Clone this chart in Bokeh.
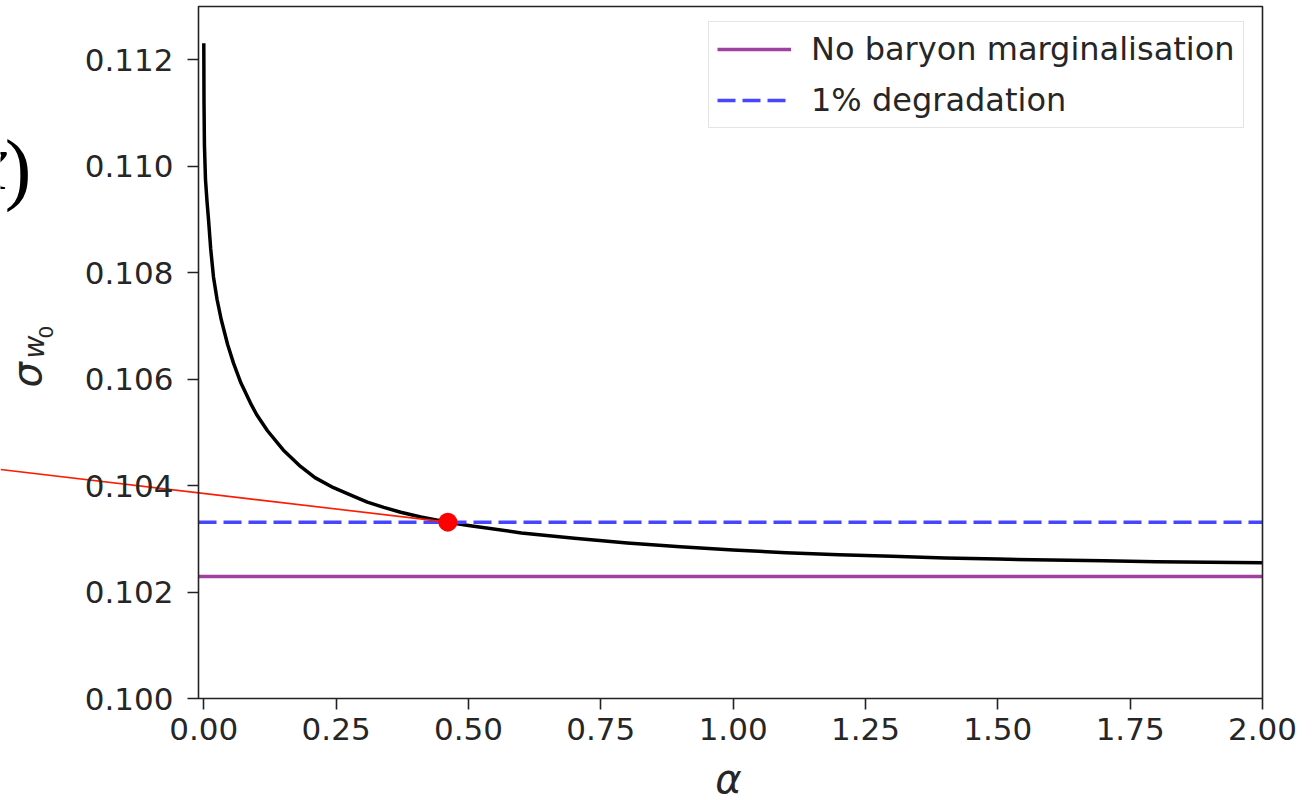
from bokeh.plotting import figure
from bokeh.models import (Label, Legend, LegendItem, Range1d, FixedTicker,
                          BoxAnnotation)
from bokeh.embed import file_html
from bokeh.resources import INLINE

# Marginalised forecast error on w0 as a function of the baryon prior width alpha
alpha = [0.0, 0.0004, 0.0012, 0.0032, 0.006, 0.0089, 0.013, 0.0183, 0.025,
         0.0329, 0.045, 0.0561, 0.07, 0.0882, 0.10, 0.1203, 0.15, 0.1827,
         0.21, 0.245, 0.28, 0.309, 0.34, 0.372, 0.41, 0.461, 0.5, 0.6, 0.7,
         0.8, 0.9, 1.0, 1.1, 1.2, 1.3, 1.4, 1.5, 1.6, 1.7, 1.8, 1.9, 2.0]
sigma_w0 = [0.11231, 0.11120, 0.11040, 0.10975, 0.10935, 0.10900, 0.10845,
            0.10792, 0.10750, 0.10712, 0.10665, 0.10630, 0.10593, 0.10555,
            0.10533, 0.10503, 0.10467, 0.10436, 0.10415, 0.10396, 0.10381,
            0.10369, 0.10359, 0.10350, 0.10341, 0.10331, 0.10325, 0.10311,
            0.10301, 0.10292, 0.10285, 0.10279, 0.10274, 0.10270, 0.10267,
            0.10264, 0.10262, 0.10260, 0.10259, 0.10257, 0.10256, 0.10255]

# Reference error without baryon marginalisation and the 1% degraded level
sigma_fid = 0.10229
degradation = 0.01
sigma_deg = sigma_fid * (1 + degradation)

# alpha at which the marginalised error reaches the 1% degradation level
alpha_star = 0.461

legend_labels = ["No baryon marginalisation", "1% degradation"]
x_ticks = [0.0, 0.25, 0.5, 0.75, 1.0, 1.25, 1.5, 1.75, 2.0]
x_tick_labels = ["0.00", "0.25", "0.50", "0.75", "1.00", "1.25", "1.50", "1.75", "2.00"]
y_ticks = [0.100, 0.102, 0.104, 0.106, 0.108, 0.110, 0.112]
y_tick_labels = ["0.100", "0.102", "0.104", "0.106", "0.108", "0.110", "0.112"]

# axes limits
X0, X1 = -0.01, 2.0
Y0, Y1 = 0.100, 0.113

W, H = 1315, 800
AL, AR, AT, AB = 198, 1262, 6, 698  # axes box edges in canvas pixels


def sx(px):
    return X0 + (px - AL) * (X1 - X0) / (AR - AL)


def sy(py):
    return Y0 + (AB - py) * (Y1 - Y0) / (AB - AT)


# the plotting frame covers the whole canvas; the axes box sits inside it
p = figure(width=W, height=H, output_backend="svg", toolbar_location=None,
           title=None, x_range=Range1d(sx(0), sx(W)), y_range=Range1d(sy(H), sy(0)),
           min_border=0, min_border_left=0, min_border_right=0,
           min_border_top=0, min_border_bottom=0)
p.background_fill_color = "white"
p.border_fill_color = "white"
p.grid.visible = False
p.outline_line_color = None

TEXT = "#262626"
SPINE = "#222222"
for ax in (p.xaxis[0], p.yaxis[0]):
    ax.axis_line_color = None
    ax.major_tick_line_color = SPINE
    ax.major_tick_line_width = 1.6
    ax.major_tick_out = 11
    ax.major_tick_in = 0
    ax.minor_tick_out = 0
    ax.minor_tick_in = 0
    ax.major_label_text_font = "DejaVu Sans"
    ax.major_label_text_font_size = "31px"
    ax.major_label_text_color = TEXT

p.xaxis[0].fixed_location = Y0
p.xaxis[0].ticker = FixedTicker(ticks=x_ticks)
p.xaxis[0].major_label_overrides = dict(zip(x_ticks, x_tick_labels))
p.xaxis[0].major_label_standoff = 8
p.yaxis[0].fixed_location = X0
p.yaxis[0].ticker = FixedTicker(ticks=y_ticks)
p.yaxis[0].major_label_overrides = dict(zip(y_ticks, y_tick_labels))
p.yaxis[0].major_label_standoff = 14

# marginalised error curve
p.line(alpha, sigma_w0, line_color="black", line_width=3.5, line_join="round")

# horizontal reference levels across the whole axis
fid = p.line([X0, X1], [sigma_fid, sigma_fid], line_color="#a040a0", line_width=3.5)
deg = p.line([X0, X1], [sigma_deg, sigma_deg], line_color="#4646ff",
             line_width=3.5, line_dash="18 7")

# pointer from the left margin to the crossing point
p.line([sx(0), alpha_star], [sy(469), sigma_deg], line_color="#ff1a00", line_width=1.6)

p.scatter([alpha_star], [sigma_deg], size=19, fill_color="red", line_color=None)

# axes box
p.add_layout(BoxAnnotation(left=X0, right=X1, bottom=Y0, top=Y1,
                           fill_color=None, fill_alpha=0,
                           line_color=SPINE, line_alpha=1.0, line_width=1.6))

legend = Legend(items=[LegendItem(label=legend_labels[0], renderers=[fid]),
                       LegendItem(label=legend_labels[1], renderers=[deg])],
                location=(708, H - 128), padding=8, spacing=13,
                glyph_width=74, glyph_height=30, label_height=30,
                label_standoff=20, label_text_font="DejaVu Sans",
                label_text_font_size="32px", label_text_color=TEXT,
                border_line_color="#cccccc", border_line_width=1.5,
                background_fill_color="white", background_fill_alpha=0.85)
p.add_layout(legend)


def mid(size, ratio=0.346):
    # distance from the alphabetic baseline to the middle of the em box
    return ratio * size


# axis labels (anchored on the middle line of each text)
p.add_layout(Label(x=sx(728), y=sy(792 - mid(40)), text="α", text_align="center",
                   text_baseline="middle", text_font="DejaVu Sans",
                   text_font_style="italic", text_font_size="40px",
                   text_color=TEXT))
p.add_layout(Label(x=sx(40 - mid(40)), y=sy(387), text="σ", angle=90,
                   angle_units="deg", text_align="left", text_baseline="middle",
                   text_font="DejaVu Sans", text_font_style="italic",
                   text_font_size="40px", text_color=TEXT))
p.add_layout(Label(x=sx(44 - mid(28)), y=sy(358), text="w", angle=90,
                   angle_units="deg", text_align="left", text_baseline="middle",
                   text_font="DejaVu Sans", text_font_style="italic",
                   text_font_size="28px", text_color=TEXT))
p.add_layout(Label(x=sx(52 - mid(20)), y=sy(338), text="0", angle=90,
                   angle_units="deg", text_align="left", text_baseline="middle",
                   text_font="DejaVu Sans", text_font_size="20px",
                   text_color=TEXT))

# tail of the neighbouring equation at the left edge
p.add_layout(Label(x=sx(31), y=sy(194 - mid(80, 0.3375)), text=")",
                   text_align="right", text_baseline="middle",
                   text_font="Liberation Serif", text_font_size="80px",
                   text_color="black"))
p.add_layout(Label(x=sx(7), y=sy(188 - mid(80, 0.3375)), text="x",
                   text_align="right", text_baseline="middle",
                   text_font="Liberation Serif", text_font_style="italic",
                   text_font_size="80px", text_color="black"))

open("out.html", "w").write(file_html(p, INLINE))
